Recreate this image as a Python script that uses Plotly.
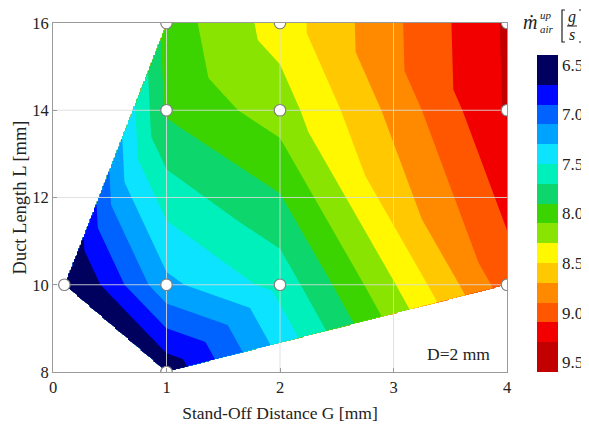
import numpy as np
import plotly.graph_objects as go

# ---------------- data ----------------
G_mm = [0.1, 1, 1, 1, 1, 2, 2, 2, 4, 4, 4]           # stand-off distance
L_mm = [10, 8, 10, 14, 16, 10, 14, 16, 10, 14, 16]    # duct length
m_air = [6.40, 6.55, 7.25, 7.93, 7.99, 7.57, 8.20, 8.39, 9.00, 9.32, 9.33]  # g/s

# triangulation of the measured points (indices into the arrays above)
triangles = [(0, 1, 2), (0, 2, 3), (0, 3, 4), (1, 5, 2), (1, 8, 5), (2, 5, 3),
             (3, 5, 6), (3, 6, 7), (3, 7, 4), (5, 8, 6), (6, 8, 9), (6, 9, 7),
             (7, 9, 10)]

x_ticks = [0, 1, 2, 3, 4]
y_ticks = [8, 10, 12, 14, 16]
cbar_ticks = [6.5, 7.0, 7.5, 8.0, 8.5, 9.0, 9.5]
level_start, level_end, level_step = 6.5, 9.5, 0.2

band_colors = ["#00005e", "#0008ff", "#0062ff", "#00a2ff", "#0ce4ff",
               "#00f0bc", "#0cd66c", "#3cd400", "#88e400", "#fff800",
               "#ffc800", "#ff8a00", "#ff5600", "#f20000", "#c20000"]

FONT = "Liberation Serif, Times New Roman, serif"

# ---------------- linear interpolation inside the triangles ----------------
gx = np.linspace(x_ticks[0], x_ticks[-1], 321)
gy = np.linspace(y_ticks[0], y_ticks[-1], 321)
X, Y = np.meshgrid(gx, gy)
Z = np.full(X.shape, np.nan)
px, py, pv = np.array(G_mm, float), np.array(L_mm, float), np.array(m_air, float)
for a, b, c in triangles:
    x1, y1, x2, y2, x3, y3 = px[a], py[a], px[b], py[b], px[c], py[c]
    det = (y2 - y3) * (x1 - x3) + (x3 - x2) * (y1 - y3)
    l1 = ((y2 - y3) * (X - x3) + (x3 - x2) * (Y - y3)) / det
    l2 = ((y3 - y1) * (X - x3) + (x1 - x3) * (Y - y3)) / det
    l3 = 1 - l1 - l2
    inside = (l1 >= -1e-9) & (l2 >= -1e-9) & (l3 >= -1e-9)
    Z[inside] = (l1 * pv[a] + l2 * pv[b] + l3 * pv[c])[inside]

# negate so the colour bar runs 6.5 (top) -> 9.5 (bottom)
zneg = [[None if np.isnan(v) else round(-float(v), 4) for v in row] for row in Z]

nslot = int(round((level_end - level_start) / level_step)) + 1
cscale = [[0.0, band_colors[-1]]]
for k in range(1, nslot):
    cscale.append([k / nslot, band_colors[nslot - 1 - k]])
cscale.append([1.0, band_colors[0]])

# page geometry: the page body adds an 8 px offset, so the figure is
# made 8 px smaller and its margins shifted to keep the plot in place
OFF = 8
W, H = 589 - OFF, 425 - OFF
PL, PR, PT, PB = 53, 507, 23, 372          # plot area in page pixels
ML, MT = PL - OFF, PT - OFF
MR, MB = 589 - PR, 425 - PB
PW, PH = PR - PL, PB - PT


def xp(pix):
    return (pix - PL) / PW


def yp(pix):
    return (PB - pix) / PH


fig = go.Figure()

fig.add_trace(go.Contour(
    x=gx, y=gy, z=zneg,
    contours=dict(start=-level_end, end=-level_start, size=level_step,
                  coloring="fill", showlines=False),
    line=dict(width=0),
    colorscale=cscale,
    connectgaps=False,
    hoverinfo="skip",
    colorbar=dict(
        tickvals=[-t for t in cbar_ticks],
        ticktext=[f"{t:.1f}" for t in cbar_ticks],
        ticks="", thickness=21, thicknessmode="pixels",
        len=yp(55) - yp(372), lenmode="fraction",
        y=yp(372), yanchor="bottom", x=xp(537), xanchor="left",
        xpad=0, ypad=0, outlinewidth=0,
        tickfont=dict(family=FONT, size=17, color="#222"),
    ),
))

# grid lines drawn above the filled contours
gxs, gys = [], []
for xv in x_ticks[1:-1]:
    gxs += [xv, xv, None]
    gys += [y_ticks[0], y_ticks[-1], None]
for yv in y_ticks[1:-1]:
    gxs += [x_ticks[0], x_ticks[-1], None]
    gys += [yv, yv, None]
fig.add_trace(go.Scatter(x=gxs, y=gys, mode="lines",
                         line=dict(color="rgba(220,220,220,0.85)", width=1),
                         hoverinfo="skip", showlegend=False))

# measured points
fig.add_trace(go.Scatter(x=G_mm, y=L_mm, mode="markers", cliponaxis=True,
                         marker=dict(size=11.5, color="white",
                                     line=dict(color="#808080", width=1.2)),
                         showlegend=False))

fig.update_layout(
    width=W, height=H,
    margin=dict(l=ML, r=MR, t=MT, b=MB, autoexpand=False),
    paper_bgcolor="white", plot_bgcolor="white",
    font=dict(family=FONT, color="#222"),
    showlegend=False,
    xaxis=dict(range=[x_ticks[0], x_ticks[-1]], tickvals=x_ticks,
               showgrid=False, zeroline=False, showline=True, mirror=True,
               linecolor="#9a9a9a", linewidth=1,
               ticks="inside", ticklen=4, tickcolor="#9a9a9a",
               tickfont=dict(size=16.5, family=FONT, color="#222"),
               title=dict(text="Stand-Off Distance G [mm]", standoff=10,
                          font=dict(size=17.5, family=FONT, color="#222"))),
    yaxis=dict(range=[y_ticks[0], y_ticks[-1]], tickvals=y_ticks,
               showgrid=False, zeroline=False, showline=True, mirror=True,
               linecolor="#9a9a9a", linewidth=1,
               ticks="inside", ticklen=4, tickcolor="#9a9a9a",
               tickfont=dict(size=16.5, family=FONT, color="#222"),
               title=dict(text="Duct Length L [mm]", standoff=0,
                          font=dict(size=18.5, family=FONT, color="#222"))),
)

# D=2 mm label
fig.add_annotation(x=3.57, y=8.42, xref="x", yref="y", text="D=2 mm",
                   showarrow=False, font=dict(size=17.5, family=FONT, color="#222"))

# colour-bar title: m-dot^up_air [g/s]
ann = dict(showarrow=False, xref="paper", yref="paper",
           xanchor="center", yanchor="middle")
fig.add_annotation(x=xp(530), y=yp(22), text="<i>m\u0307</i>",
                   font=dict(size=20, family=FONT, color="#222"), **ann)
fig.add_annotation(x=xp(546), y=yp(15), text="<i>up</i>",
                   font=dict(size=11, family=FONT, color="#222"), **ann)
fig.add_annotation(x=xp(547), y=yp(29), text="<i>air</i>",
                   font=dict(size=11, family=FONT, color="#222"), **ann)
fig.add_annotation(x=xp(572), y=yp(17), text="<i>g</i>",
                   font=dict(size=16, family=FONT, color="#222"), **ann)
fig.add_annotation(x=xp(572), y=yp(34), text="<i>s</i>",
                   font=dict(size=16, family=FONT, color="#222"), **ann)
fig.add_shape(type="line", xref="paper", yref="paper",
              x0=xp(567), x1=xp(577), y0=yp(26), y1=yp(26),
              line=dict(color="#222", width=1))
fig.add_shape(type="path", xref="paper", yref="paper",
              path=f"M {xp(565)},{yp(10)} L {xp(562)},{yp(10)} L {xp(562)},{yp(42)} L {xp(565)},{yp(42)}",
              line=dict(color="#222", width=1.2))
fig.add_shape(type="path", xref="paper", yref="paper",
              path=f"M {xp(579)},{yp(10)} L {xp(582)},{yp(10)} L {xp(582)},{yp(42)} L {xp(579)},{yp(42)}",
              line=dict(color="#222", width=1.2))

fig.write_html("out.html")
